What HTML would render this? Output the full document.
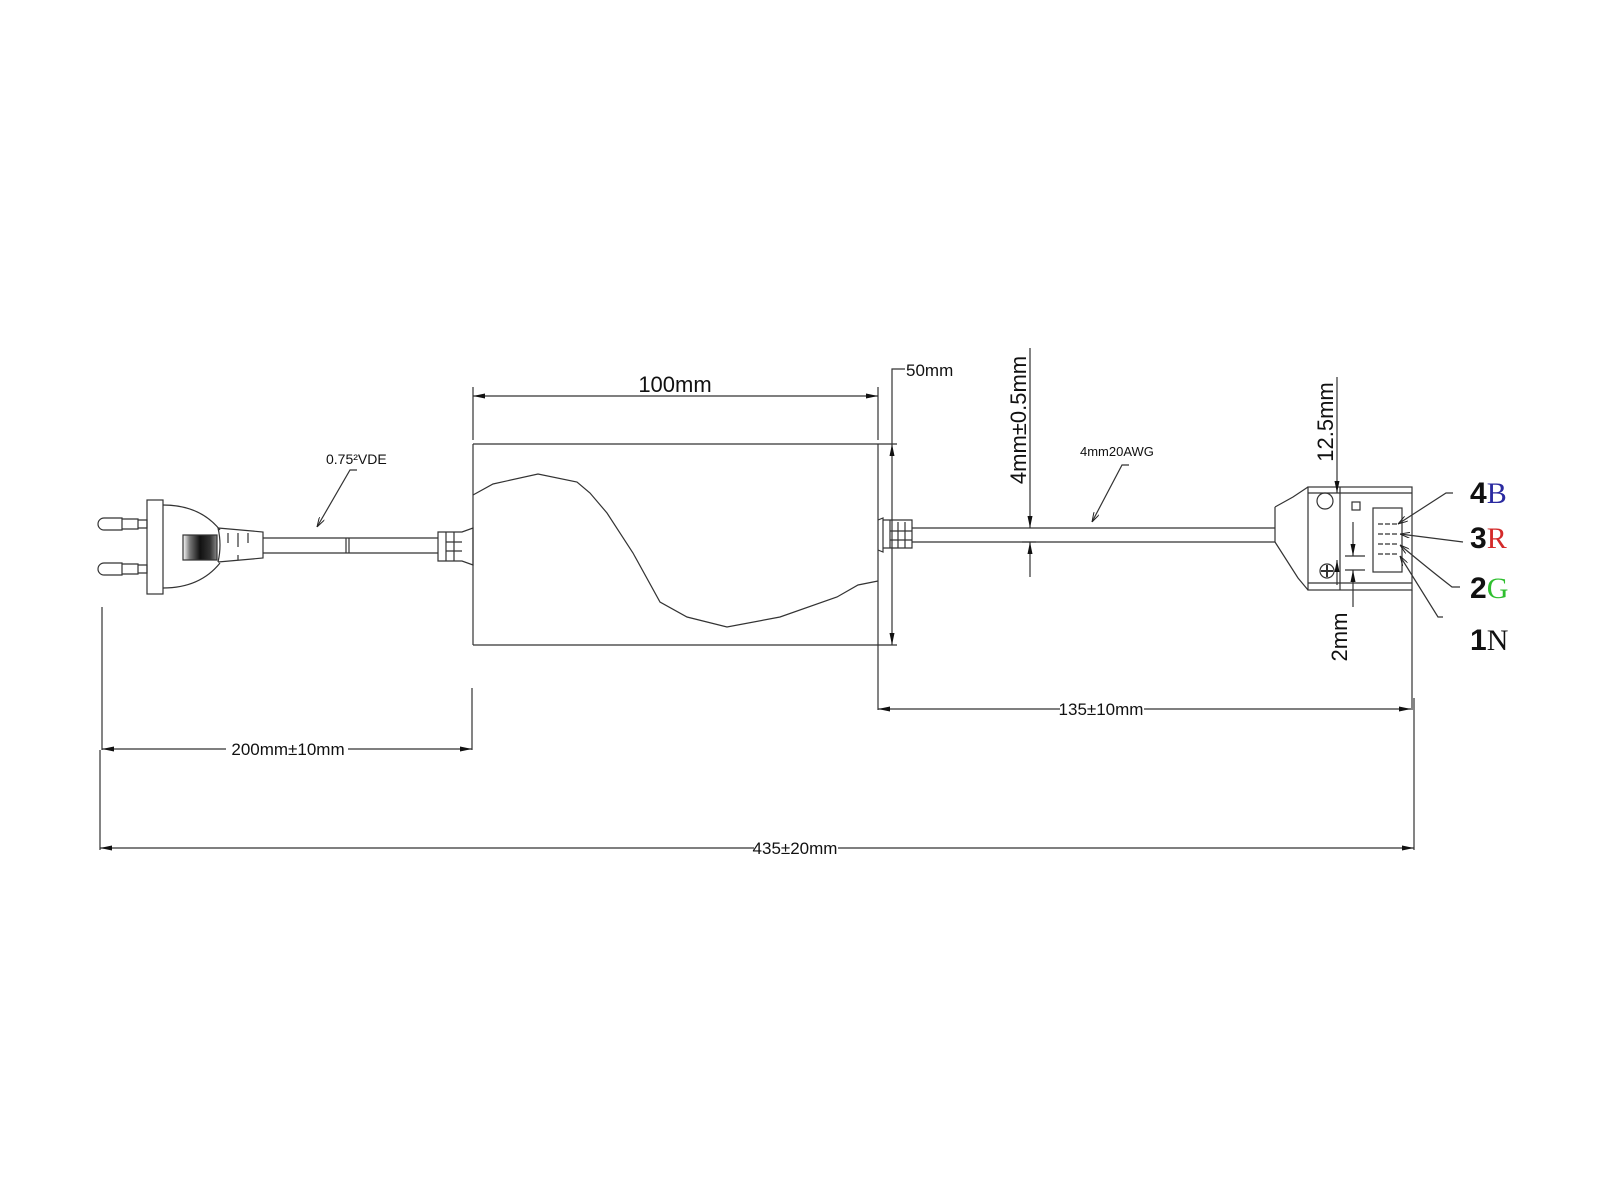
<!DOCTYPE html>
<html><head><meta charset="utf-8"><style>
html,body{margin:0;padding:0;background:#fff;}
svg{display:block;}
text{font-family:"Liberation Sans",sans-serif;fill:#111;}
</style></head><body>
<svg width="1605" height="1203" viewBox="0 0 1605 1203" xmlns="http://www.w3.org/2000/svg">
<defs>
<marker id="a" viewBox="0 0 12 6" refX="12" refY="3" markerWidth="12" markerHeight="6" markerUnits="userSpaceOnUse" orient="auto-start-reverse"><path d="M0,0.5 L12,3 L0,5.5 Z" fill="#111"/></marker>
<marker id="s" viewBox="0 0 10 6" refX="10" refY="3" markerWidth="10" markerHeight="6" markerUnits="userSpaceOnUse" orient="auto"><path d="M0,0 L10,3 L0,6" fill="none" stroke="#222" stroke-width="1"/></marker>
<linearGradient id="bc" x1="0" x2="1" y1="0" y2="0">
<stop offset="0" stop-color="#fff"/><stop offset="0.2" stop-color="#777"/><stop offset="0.5" stop-color="#111"/><stop offset="0.8" stop-color="#333"/><stop offset="1" stop-color="#888"/>
</linearGradient>
</defs>
<g stroke="#333" stroke-width="1.2" fill="none">
<!-- plug prongs -->
<path d="M122,518 H104 A6,6 0 0 0 104,530 H122 Z M122,519 H138 V529 H122 M138,520 H147 V528 H138"/>
<path d="M122,563 H104 A6,6 0 0 0 104,575 H122 Z M122,564 H138 V574 H122 M138,565 H147 V573 H138"/>
<rect x="147" y="500" width="16" height="94"/>
<path d="M163,505 Q200,505 220,530 M163,588 Q200,588 220,563"/>
<rect x="183" y="535" width="34" height="25" fill="url(#bc)"/>
<path d="M218,528 Q222,545 218,562 M218,528 L263,532 V558 L218,562"/>
<path d="M228,533 v10 M238,533 v14 M248,533 v10 M238,555 v5"/>
<!-- cable left -->
<path d="M263,538 H438 M263,553 H438 M346,538 V553 M349,538 V553"/>
<!-- left boot -->
<path d="M438,532 H462 L473,528 V565 L462,561 H438 Z M446,532 V561 M454,532 V561 M446,542 H462 M446,551 H462"/>
<!-- box -->
<path d="M473,444 H878 M473,645 H878 M473,444 V645 M878,444 V670"/>
<path d="M473,495 L493,484 L538,474 L577,482 L590,493 L607,513 L633,553 L660,602 L687,617 L727,627 L780,617 L837,597 L858,585 L878,581"/>
<!-- right boot -->
<path d="M878,520 L883,518 V552 L878,550 M883,520 H912 V548 H883 M890,520 V548 M898,522 V548 M905,522 V548 M890,531 H912 M890,540 H912"/>
<!-- cable right -->
<path d="M912,528 H1275 M912,542 H1275"/>
<!-- connector -->
<path d="M1275,507 L1293,497 L1308,487 M1275,542 L1298,578 L1308,590 M1275,507 V542"/>
<rect x="1308" y="487" width="104" height="103"/>
<path d="M1340,487 V590 M1308,493 H1412 M1308,583 H1412"/>
<circle cx="1325" cy="501" r="8"/>
<circle cx="1327" cy="571" r="7"/>
<path d="M1321,571 H1333 M1327,565 V577" stroke-width="2"/>
<rect x="1352" y="502" width="8" height="8"/>
<rect x="1373" y="508" width="29" height="64"/>
<path d="M1378,524 H1398 M1378,534 H1398 M1378,544 H1398 M1378,554 H1398" stroke-dasharray="5,2"/>
<path d="M1345,556 H1365 M1345,570 H1365"/>
<!-- pin leaders -->
<path d="M1453,493 H1446 L1398,524" marker-end="url(#s)"/>
<path d="M1463,542 L1400,534" marker-end="url(#s)"/>
<path d="M1460,587 H1452 Q1430,570 1400,545" marker-end="url(#s)"/>
<path d="M1443,617 H1438 L1400,556" marker-end="url(#s)"/>
<!-- dims -->
<path d="M473,387 V440 M878,387 V440"/>
<path d="M473,396 H878" marker-start="url(#a)" marker-end="url(#a)"/>
<path d="M905,369 H892 V444"/>
<path d="M892,444 V645" marker-start="url(#a)" marker-end="url(#a)"/>
<path d="M878,444 H897 M878,645 H897"/>
<path d="M1030,348 V528" marker-end="url(#a)"/>
<path d="M1030,577 V542" marker-end="url(#a)"/>
<path d="M1022,542 H1036"/>
<path d="M1129,465 H1122 L1092,522" marker-end="url(#s)"/>
<path d="M357,470 H350 L317,527" marker-end="url(#s)"/>
<path d="M1337,377 V493" marker-end="url(#a)"/>
<path d="M1337,585 V560" marker-end="url(#a)"/>
<path d="M1353,522 V556" marker-end="url(#a)"/>
<path d="M1353,607 V570" marker-end="url(#a)"/>
<path d="M102,607 V750 M472,688 V750"/>
<path d="M102,749 H472" marker-start="url(#a)" marker-end="url(#a)"/>
<path d="M878,670 V710 M1412,590 V710 M1414,698 V850 M100,750 V850"/>
<path d="M878,709 H1411" marker-start="url(#a)" marker-end="url(#a)"/>
<path d="M100,848 H1414" marker-start="url(#a)" marker-end="url(#a)"/>
</g>
<rect x="226" y="740" width="122" height="16" fill="#fff"/>
<rect x="1060" y="700" width="84" height="16" fill="#fff"/>
<rect x="754" y="840" width="84" height="16" fill="#fff"/>
<text x="675" y="392" font-size="22" text-anchor="middle">100mm</text>
<text x="906" y="376" font-size="17">50mm</text>
<text x="326" y="464" font-size="14">0.75²VDE</text>
<text x="1080" y="456" font-size="13">4mm20AWG</text>
<text transform="translate(1026,420) rotate(-90)" font-size="22" text-anchor="middle">4mm±0.5mm</text>
<text transform="translate(1333,422) rotate(-90)" font-size="22" text-anchor="middle">12.5mm</text>
<text transform="translate(1347,637) rotate(-90)" font-size="22" text-anchor="middle">2mm</text>
<text x="288" y="755" font-size="17" text-anchor="middle">200mm±10mm</text>
<text x="1101" y="715" font-size="17" text-anchor="middle">135±10mm</text>
<text x="795" y="854" font-size="17" text-anchor="middle">435±20mm</text>
<g font-size="30" font-weight="bold">
<text x="1470" y="503">4<tspan font-weight="normal" font-family="Liberation Serif,serif" fill="#2a2aa0">B</tspan></text>
<text x="1470" y="548">3<tspan font-weight="normal" font-family="Liberation Serif,serif" fill="#d42a2a">R</tspan></text>
<text x="1470" y="598">2<tspan font-weight="normal" font-family="Liberation Serif,serif" fill="#2fbf2f">G</tspan></text>
<text x="1470" y="650">1<tspan font-weight="normal" font-family="Liberation Serif,serif">N</tspan></text>
</g>
</svg>
</body></html>
